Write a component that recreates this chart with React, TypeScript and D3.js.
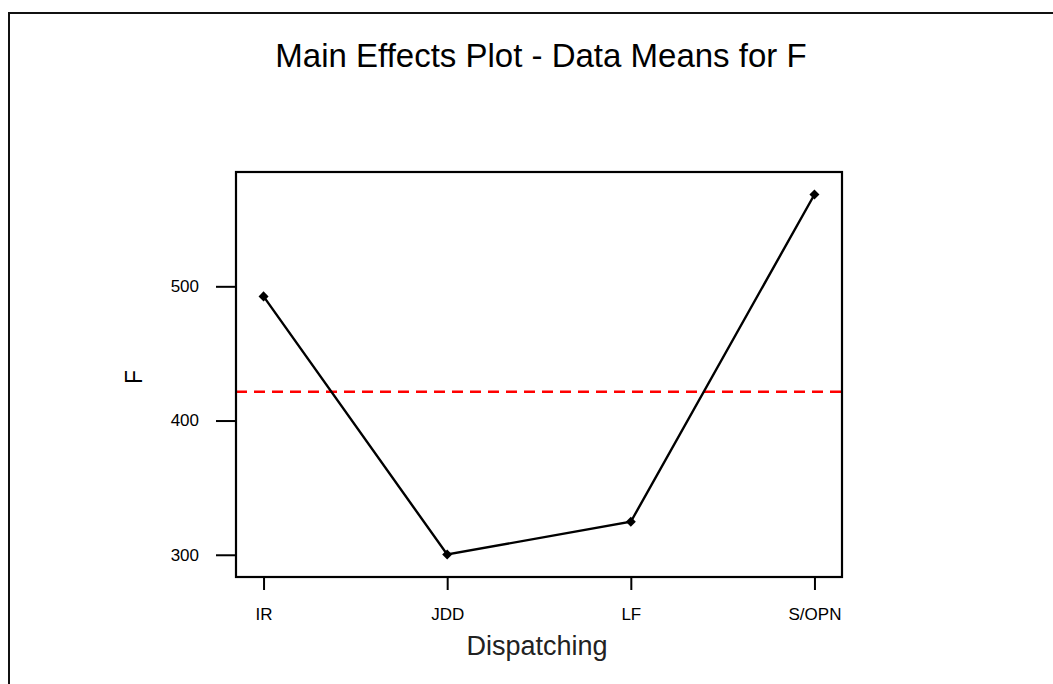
import React, { useEffect, useRef } from 'react';
import * as d3 from 'd3';

const W = 1053;
const H = 684;
const box = { left: 236, top: 172, right: 842, bottom: 577 };

const categories = ['IR', 'JDD', 'LF', 'S/OPN'];
const means = [492.5, 300.2, 324.6, 568.4];
const yTicks = [300, 400, 500];

const title = 'Main Effects Plot - Data Means for F';
const xTitle = 'Dispatching';
const yTitle = 'F';

function App() {
  const ref = useRef<SVGSVGElement | null>(null);

  useEffect(() => {
    const svg = d3.select(ref.current);
    svg.selectAll('*').remove();

    const font = '"Liberation Sans", Arial, sans-serif';

    // outer frame (right and bottom edges fall outside the picture)
    svg
      .append('rect')
      .attr('x', 9)
      .attr('y', 13)
      .attr('width', 1200)
      .attr('height', 800)
      .attr('fill', 'none')
      .attr('stroke', '#111')
      .attr('stroke-width', 2);

    svg
      .append('text')
      .attr('x', 541)
      .attr('y', 67)
      .attr('text-anchor', 'middle')
      .attr('font-family', font)
      .attr('font-size', 33)
      .attr('fill', '#000')
      .text(title);

    const x = d3
      .scalePoint<string>()
      .domain(categories)
      .range([box.left, box.right])
      .padding(0.15);

    const lo = d3.min(means) as number;
    const hi = d3.max(means) as number;
    const pad = (hi - lo) * 0.0625;
    const y = d3
      .scaleLinear()
      .domain([lo - pad, hi + pad])
      .range([box.bottom, box.top]);

    // y axis
    const yAxis = svg
      .append('g')
      .attr('transform', `translate(${box.left}, 0)`)
      .call(d3.axisLeft(y).tickValues(yTicks).tickSize(20).tickPadding(17).tickFormat(d3.format('d')));
    yAxis.select('.domain').remove();
    yAxis.selectAll('line').attr('stroke', '#000').attr('stroke-width', 2);
    yAxis.selectAll('text').attr('font-family', font).attr('font-size', 17).attr('fill', '#000');

    // x axis
    const xAxis = svg
      .append('g')
      .attr('transform', `translate(0, ${box.bottom})`)
      .call(d3.axisBottom(x).tickSize(13).tickPadding(18));
    xAxis.select('.domain').remove();
    xAxis.selectAll('line').attr('stroke', '#000').attr('stroke-width', 2);
    xAxis.selectAll('text').attr('font-family', font).attr('font-size', 17).attr('fill', '#000');

    // mean reference line
    const grand = d3.mean(means) as number;
    svg
      .append('line')
      .attr('x1', box.left)
      .attr('x2', box.right)
      .attr('y1', y(grand))
      .attr('y2', y(grand))
      .attr('stroke', '#ff0000')
      .attr('stroke-width', 2.5)
      .attr('stroke-dasharray', '11 7');

    // plot box
    svg
      .append('rect')
      .attr('x', box.left)
      .attr('y', box.top)
      .attr('width', box.right - box.left)
      .attr('height', box.bottom - box.top)
      .attr('fill', 'none')
      .attr('stroke', '#000')
      .attr('stroke-width', 2.2);

    const pts = categories.map((c, i) => [x(c) as number, y(means[i])] as [number, number]);

    svg
      .append('path')
      .attr('d', d3.line()(pts))
      .attr('fill', 'none')
      .attr('stroke', '#000')
      .attr('stroke-width', 2.4);

    svg
      .selectAll('path.mark')
      .data(pts)
      .enter()
      .append('path')
      .attr('class', 'mark')
      .attr('d', d3.symbol(d3.symbolDiamond2, 64)())
      .attr('transform', (d) => `translate(${d[0]}, ${d[1]})`)
      .attr('fill', '#000');

    svg
      .append('text')
      .attr('x', 537)
      .attr('y', 655)
      .attr('text-anchor', 'middle')
      .attr('font-family', font)
      .attr('font-size', 27)
      .attr('fill', '#222')
      .text(xTitle);

    svg
      .append('text')
      .attr('transform', 'translate(142, 377) rotate(-90)')
      .attr('text-anchor', 'middle')
      .attr('font-family', font)
      .attr('font-size', 23)
      .attr('fill', '#000')
      .text(yTitle);
  }, []);

  return (
    <svg
      ref={ref}
      width={W}
      height={H}
      style={{ position: 'absolute', left: 0, top: 0, background: '#fff' }}
    />
  );
}

export default App;
